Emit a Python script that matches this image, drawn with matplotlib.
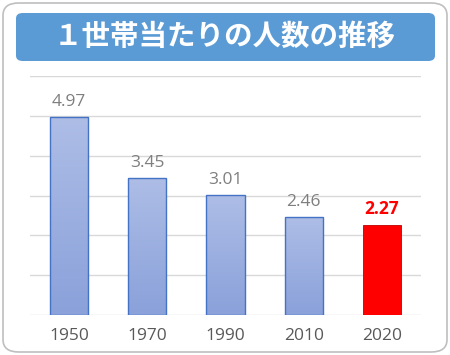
import matplotlib
matplotlib.use("Agg")
import matplotlib.pyplot as plt
import numpy as np
from matplotlib.patches import FancyBboxPatch
from matplotlib.colors import LinearSegmentedColormap

years = ["1950", "1970", "1990", "2010", "2020"]
values = [4.97, 3.45, 3.01, 2.46, 2.27]
highlight = [False, False, False, False, True]
title = "１世帯当たりの人数の推移"

fig = plt.figure(figsize=(4.5, 3.55), dpi=100)
W, H = 450, 355

# outer rounded frame
fig.patches.append(FancyBboxPatch((3 / W, 3 / H), 444 / W, 349 / H,
                                  boxstyle="round,pad=0,rounding_size=0.035",
                                  transform=fig.transFigure, facecolor="white",
                                  edgecolor="#BFBFBF", linewidth=1.2, zorder=-2))
# title box
fig.patches.append(FancyBboxPatch((16 / W, 1 - 61 / H), 419 / W, 48 / H,
                                  boxstyle="round,pad=0,rounding_size=0.015",
                                  transform=fig.transFigure, facecolor="#5B9BD5",
                                  edgecolor="none", zorder=-1))
fig.text(0.5, 1 - 37 / H, title, color="white", fontsize=20.5, fontweight="bold",
         ha="center", va="center", family=["Noto Sans CJK JP", "DejaVu Sans"], zorder=2)

ax = fig.add_axes([30 / W, 1 - 315 / H, 391 / W, 239 / H])
ax.set_facecolor("none")
x = np.arange(len(years))
ax.set_xlim(-0.5, len(years) - 0.5)
ax.set_ylim(0, 6)
ax.set_yticks(np.arange(0, 7, 1))
ax.yaxis.grid(True, color="#D9D9D9", linewidth=1)
ax.set_axisbelow(True)
for s in ax.spines.values():
    s.set_visible(False)
ax.tick_params(left=False, bottom=False, labelleft=False)
ax.set_xticks(x)
ax.set_xticklabels(years, fontsize=12.5, color="#595959", family="Open Sans")
ax.tick_params(axis="x", pad=6)

cmap = LinearSegmentedColormap.from_list("g", ["#8AA1DA", "#ADBDE6"])
grad = np.linspace(0, 1, 100).reshape(-1, 1)
bw = 0.49
for xi, v, h in zip(x, values, highlight):
    if h:
        ax.bar(xi, v, width=bw, color="#FF0000", edgecolor="#C00000", linewidth=0.6, zorder=3)
        ax.text(xi, v + 0.27, f"{v:.2f}", ha="center", va="baseline", color="#FF0000",
                fontsize=12.5, fontweight="bold", family="Open Sans")
    else:
        b = ax.bar(xi, v, width=bw, color="none", edgecolor="#4472C4", linewidth=1.0, zorder=4)[0]
        im = ax.imshow(grad, cmap=cmap, origin="lower", aspect="auto",
                       extent=(xi - bw / 2, xi + bw / 2, 0, v), zorder=3)
        im.set_clip_path(b)
        ax.text(xi, v + 0.27, f"{v:.2f}", ha="center", va="baseline", color="#7F7F7F",
                fontsize=12.5, family="Open Sans")
ax.set_xlim(-0.5, len(years) - 0.5)
ax.set_ylim(0, 6)

fig.savefig("out.png", dpi=100)
